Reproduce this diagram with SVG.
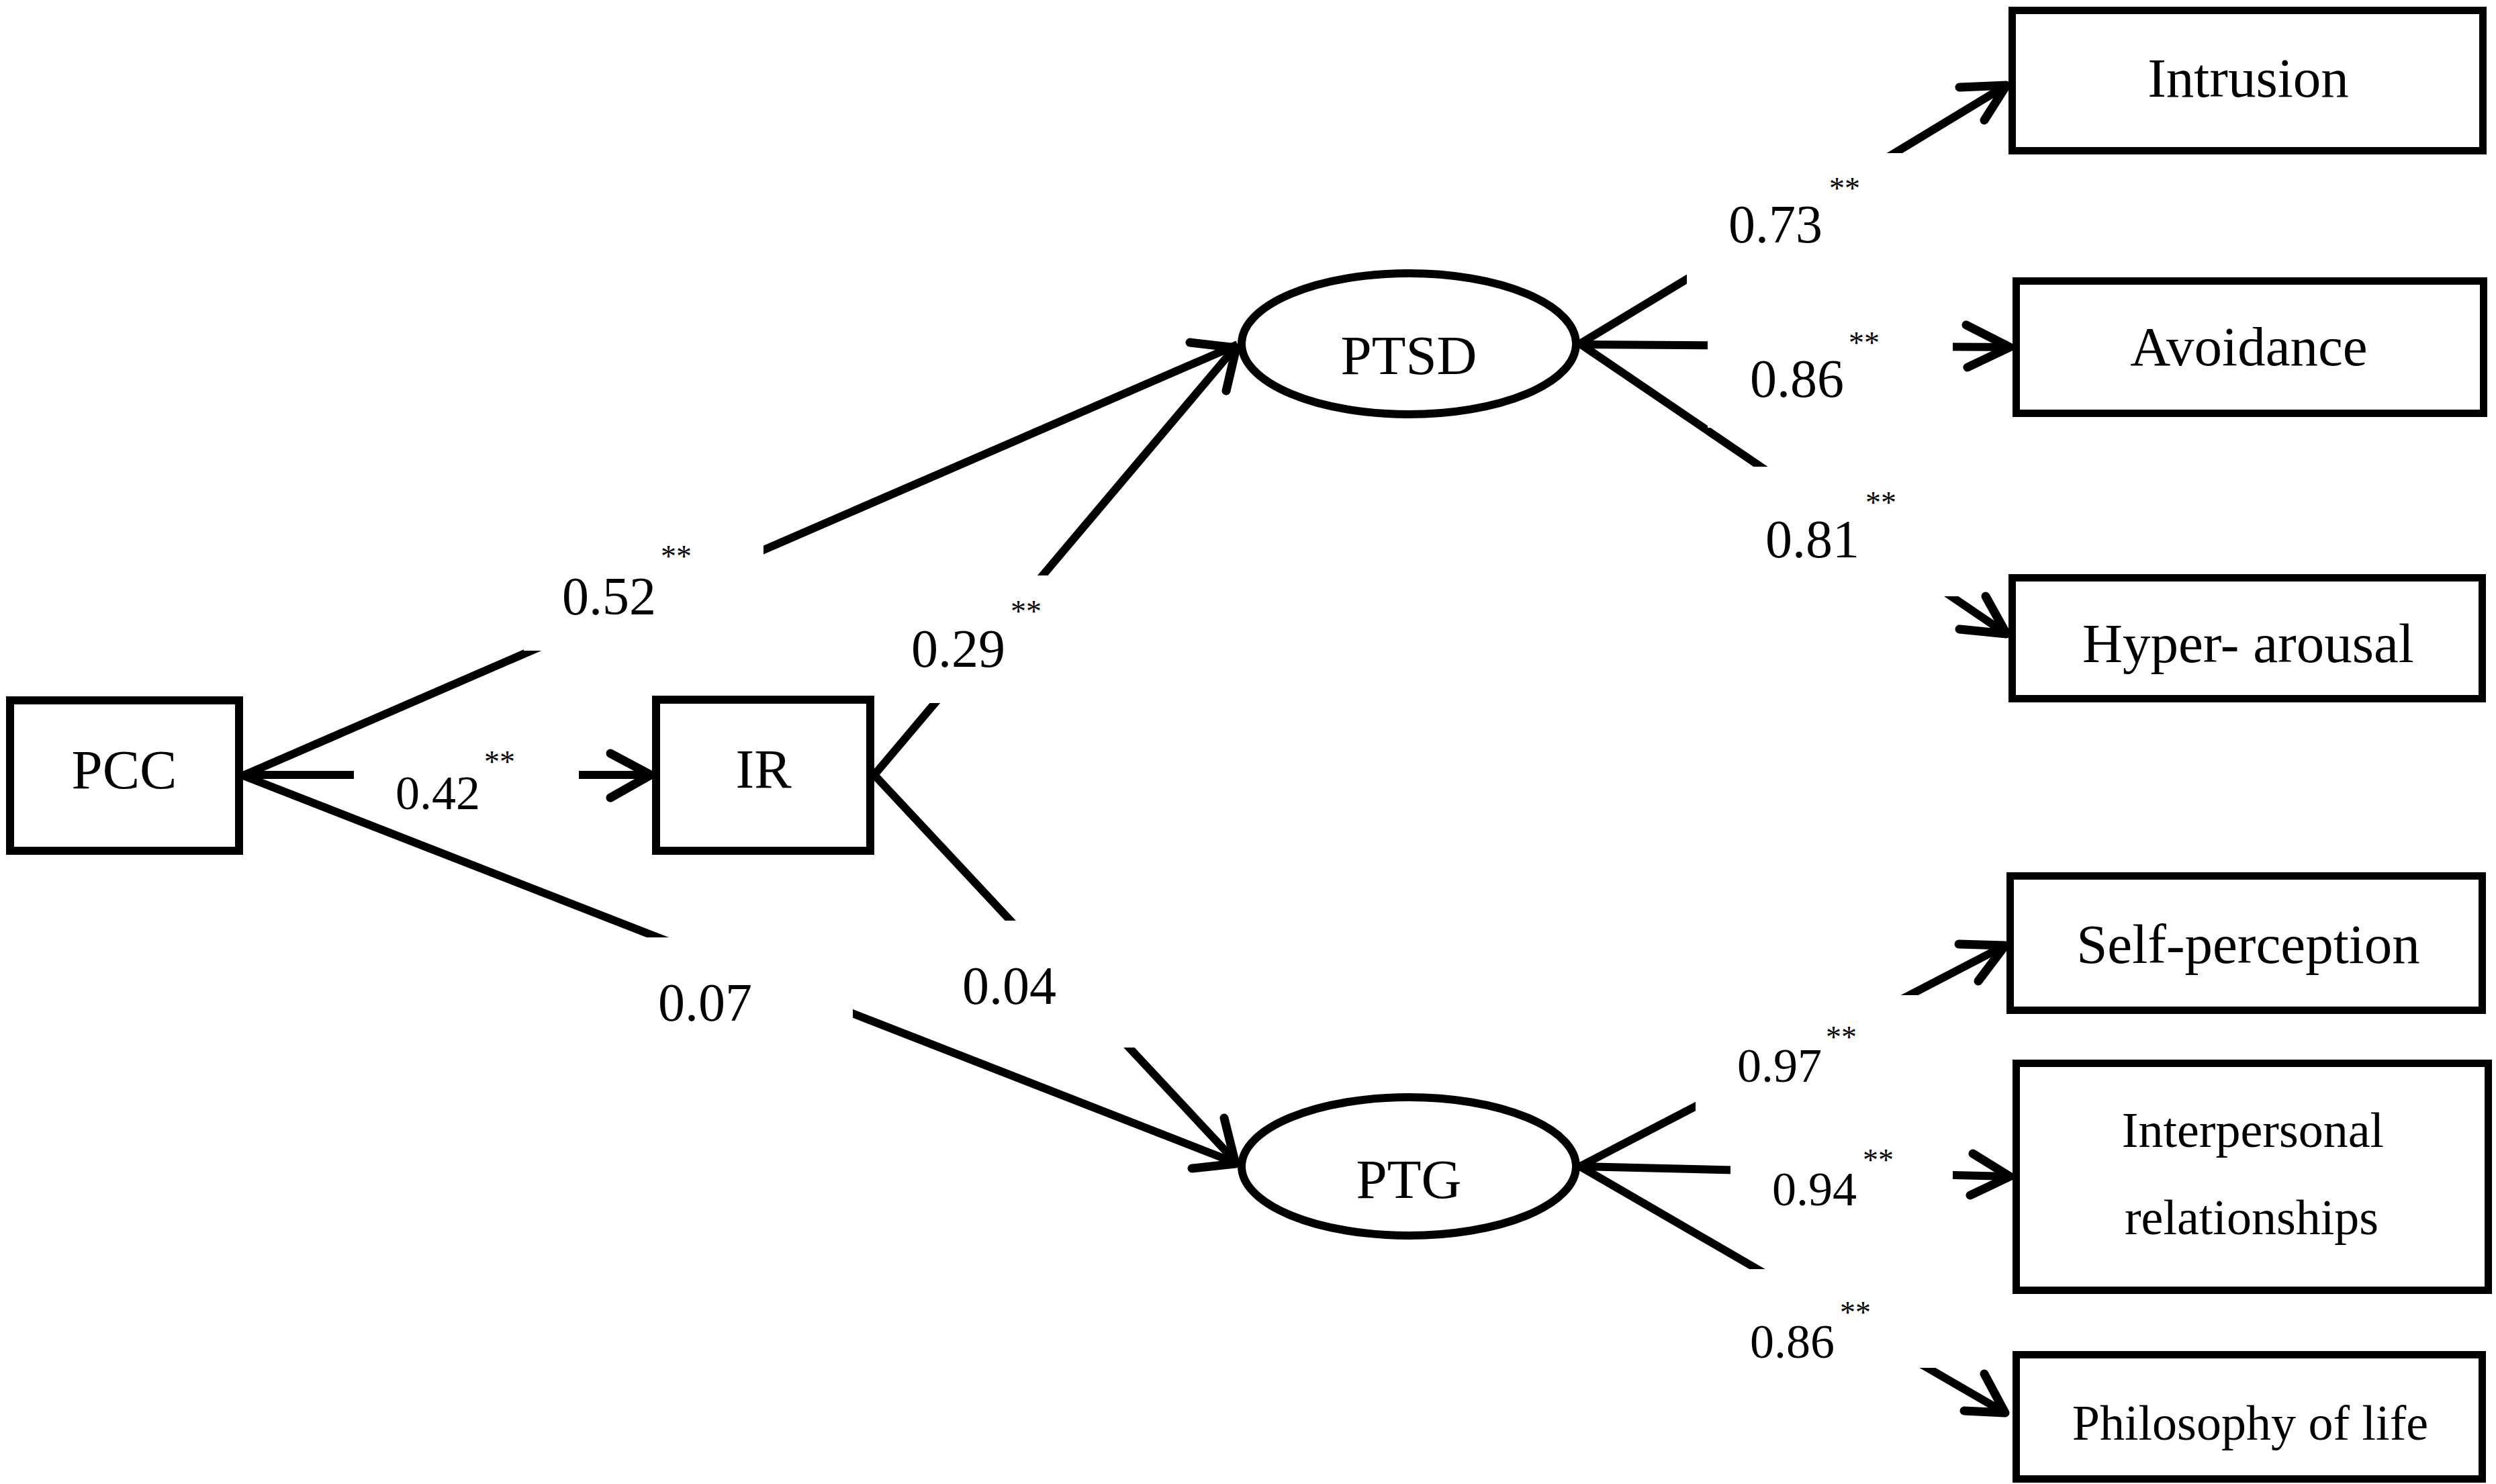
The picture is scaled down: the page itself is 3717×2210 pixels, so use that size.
<svg xmlns="http://www.w3.org/2000/svg" width="3717" height="2210" viewBox="0 0 3717 2210">
<style>
.bg{fill:#fff}
.box{fill:#fff;stroke:#000;stroke-width:12}
.rbox{fill:#fff;stroke:#000;stroke-width:11}
.ell{fill:#fff;stroke:#000;stroke-width:12}
.ln{fill:none;stroke:#000;stroke-width:12;stroke-linecap:butt}
.ah{fill:none;stroke:#000;stroke-width:13;stroke-linecap:round;stroke-linejoin:round}
.mask{fill:#fff;stroke:none}
text{font-family:"Liberation Serif","Times New Roman",serif;fill:#000}
.nt{font-size:83px;text-anchor:middle}
.nt2{font-size:74px;text-anchor:middle}
.lb{font-size:80px}
.lbs{font-size:72px}
.st{font-size:46px}
</style>
<rect class="bg" x="0" y="0" width="3717" height="2210"/>
<g id="connectors">
  <path class="ln" d="M362,1154 L969,1154"/>
  <polyline class="ah" points="909,1122 969,1154 909,1188"/>
  <path class="ln" d="M362,1155 L1843,513"/>
  <path class="ln" d="M1302,1154 L1843,513"/>
  <polyline class="ah" points="1772,510 1841,518 1826,582"/>
  <path class="ln" d="M362,1155 L1843,1733"/>
  <path class="ln" d="M1302,1154 L1843,1733"/>
  <polyline class="ah" points="1823,1665 1840,1733 1775,1740"/>
  <path class="ln" d="M2353,512 L2988,127"/>
  <polyline class="ah" points="2918,130 2988,127 2955,179"/>
  <path class="ln" d="M2353,513 L2993,517"/>
  <polyline class="ah" points="2928,484 2993,517 2930,547"/>
  <path class="ln" d="M2353,512 L2988,944"/>
  <polyline class="ah" points="2918,937 2988,944 2957,888"/>
  <path class="ln" d="M2353,1737 L2986,1408"/>
  <polyline class="ah" points="2917,1406 2986,1408 2946,1461"/>
  <path class="ln" d="M2353,1737 L2993,1752"/>
  <polyline class="ah" points="2938,1718 2993,1752 2934,1780"/>
  <path class="ln" d="M2353,1737 L2986,2104"/>
  <polyline class="ah" points="2925,2101 2986,2104 2955,2046"/>
</g>
<g id="labels">
  <g id="lbl-042"><rect class="mask" x="527" y="1108" width="335" height="100"/><text class="lbs" x="589" y="1205">0.42</text><text class="st" x="721" y="1150">**</text></g>
  <g id="lbl-052"><rect class="mask" x="780" y="805" width="357" height="164"/><text class="lb" x="837" y="915">0.52</text><text class="st" x="984" y="844">**</text></g>
  <g id="lbl-029"><rect class="mask" x="1340" y="857" width="230" height="190"/><text class="lb" x="1357" y="993">0.29</text><text class="st" x="1505" y="926">**</text></g>
  <g id="lbl-007"><rect class="mask" x="960" y="1396" width="310" height="139"/><text class="lb" x="980" y="1520">0.07</text></g>
  <g id="lbl-004"><rect class="mask" x="1420" y="1371" width="280" height="189"/><text class="lb" x="1433" y="1495">0.04</text></g>
  <g id="lbl-073"><rect class="mask" x="2512" y="228" width="338" height="202"/><text class="lb" x="2574" y="361">0.73</text><text class="st" x="2724" y="296">**</text></g>
  <g id="lbl-086a"><rect class="mask" x="2543" y="440" width="365" height="197"/><text class="lb" x="2606" y="591">0.86</text><text class="st" x="2753" y="526">**</text></g>
  <g id="lbl-081"><rect class="mask" x="2560" y="695" width="370" height="193"/><text class="lb" x="2629" y="830">0.81</text><text class="st" x="2778" y="764">**</text></g>
  <g id="lbl-097"><rect class="mask" x="2525" y="1482" width="350" height="188"/><text class="lbs" x="2587" y="1611">0.97</text><text class="st" x="2719" y="1560">**</text></g>
  <g id="lbl-094"><rect class="mask" x="2577" y="1700" width="331" height="100"/><text class="lbs" x="2639" y="1795">0.94</text><text class="st" x="2774" y="1743">**</text></g>
  <g id="lbl-086b"><rect class="mask" x="2580" y="1890" width="320" height="147"/><text class="lbs" x="2606" y="2022">0.86</text><text class="st" x="2740" y="1970">**</text></g>
</g>
<g id="PCC"><rect class="box" x="15" y="1043" width="341" height="224"/><text class="nt" x="185" y="1174">PCC</text></g>
<g id="IR"><rect class="box" x="977" y="1042" width="319" height="225"/><text class="nt" x="1137" y="1173">IR</text></g>
<g id="PTSD"><ellipse class="ell" cx="2098" cy="512" rx="249" ry="105"/><text class="nt" x="2098" y="557">PTSD</text></g>
<g id="PTG"><ellipse class="ell" cx="2098" cy="1737" rx="249" ry="103"/><text class="nt" x="2098" y="1784">PTG</text></g>
<g id="Intrusion"><rect class="rbox" x="2996.5" y="15.5" width="701" height="209"/><text class="nt" x="3348" y="144">Intrusion</text></g>
<g id="Avoidance"><rect class="rbox" x="3002.5" y="418.5" width="696" height="197"/><text class="nt" x="3349" y="544">Avoidance</text></g>
<g id="Hyperarousal"><rect class="rbox" x="2996.5" y="860.5" width="700" height="180"/><text class="nt" x="3348" y="986">Hyper- arousal</text></g>
<g id="SelfPerception"><rect class="rbox" x="2993.5" y="1304.5" width="703" height="200"/><text class="nt" x="3348" y="1434">Self-perception</text></g>
<g id="Interpersonal"><rect class="rbox" x="3002.5" y="1583.5" width="703" height="338"/><text class="nt2" x="3355" y="1708">Interpersonal</text><text class="nt2" x="3353" y="1838">relationships</text></g>
<g id="Philosophy"><rect class="rbox" x="3002.5" y="2017.5" width="694" height="185"/><text class="nt2" x="3351" y="2144">Philosophy of life</text></g>
</svg>
